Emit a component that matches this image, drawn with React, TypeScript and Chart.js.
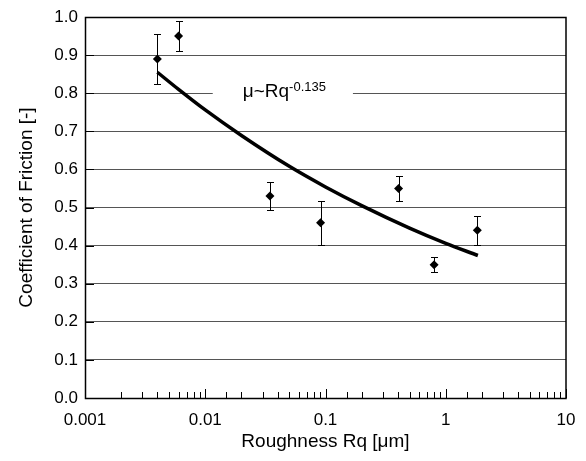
import React, { useEffect, useRef } from "react";
import { Chart, registerables } from "chart.js";

Chart.register(...registerables);

// Measured data (Roughness Rq in µm, coefficient of friction)
const roughness = [0.004, 0.006, 0.0345, 0.091, 0.405, 0.8, 1.83];
const friction = [0.89, 0.95, 0.53, 0.46, 0.55, 0.35, 0.44];
const frictionErr = [0.065, 0.04, 0.037, 0.058, 0.033, 0.019, 0.038];

// Fit curve
const fitX = [0.004, 0.006, 0.01, 0.02, 0.05, 0.1, 0.2, 0.5, 1, 1.85];
const fitY = [0.855, 0.81, 0.756, 0.689, 0.608, 0.554, 0.505, 0.446, 0.406, 0.374];

const xTickLabels = ["0.001", "0.01", "0.1", "1", "10"];
const yTickValues = [0, 0.1, 0.2, 0.3, 0.4, 0.5, 0.6, 0.7, 0.8, 0.9, 1.0];

const fitLabelMain = "μ~Rq";
const fitLabelSup = "-0.135";
const fitLabelX = 0.0205;
const fitLabelY = 0.8;

const FONT = "'Liberation Sans', Arial, sans-serif";

const decorPlugin = {
  id: "decor",
  beforeDatasetsDraw(chart: any) {
    const { ctx, scales } = chart;
    const xs = scales.x;
    const ys = scales.y;
    ctx.save();
    // label with white background interrupting gridline
    ctx.font = `19px ${FONT}`;
    const wMain = ctx.measureText(fitLabelMain).width;
    ctx.font = `13px ${FONT}`;
    const wSup = ctx.measureText(fitLabelSup).width;
    const px = xs.getPixelForValue(fitLabelX);
    const py = ys.getPixelForValue(fitLabelY);
    ctx.fillStyle = "#fff";
    ctx.fillRect(px - 30, py - 3, wMain + wSup + 57, 6);
    ctx.fillStyle = "#000";
    ctx.textBaseline = "alphabetic";
    ctx.textAlign = "left";
    ctx.font = `19px ${FONT}`;
    ctx.fillText(fitLabelMain, px, py + 3.5);
    ctx.font = `13px ${FONT}`;
    ctx.fillText(fitLabelSup, px + wMain, py - 2.5);

    // error bars
    ctx.strokeStyle = "#000";
    ctx.lineWidth = 1;
    roughness.forEach((r, i) => {
      const x = Math.round(xs.getPixelForValue(r)) + 0.5;
      const yt = Math.round(ys.getPixelForValue(friction[i] + frictionErr[i])) + 0.5;
      const yb = Math.round(ys.getPixelForValue(friction[i] - frictionErr[i])) + 0.5;
      ctx.beginPath();
      ctx.moveTo(x, yt);
      ctx.lineTo(x, yb);
      ctx.moveTo(x - 3.5, yt);
      ctx.lineTo(x + 3.5, yt);
      ctx.moveTo(x - 3.5, yb);
      ctx.lineTo(x + 3.5, yb);
      ctx.stroke();
    });
    ctx.restore();
  },
  afterDraw(chart: any) {
    const { ctx, chartArea, scales } = chart;
    const xs = scales.x;
    const ys = scales.y;
    const { left, right, top, bottom } = chartArea;
    ctx.save();
    ctx.strokeStyle = "#000";
    ctx.lineWidth = 1;
    ctx.beginPath();
    // inward x ticks
    xs.ticks.forEach((t: any) => {
      const e = Math.log10(t.value);
      const major = Math.abs(e - Math.round(e)) < 1e-6;
      const x = Math.round(xs.getPixelForValue(t.value)) + 0.5;
      ctx.moveTo(x, bottom);
      ctx.lineTo(x, bottom - (major ? 9 : 6));
    });
    // inward y ticks
    ys.ticks.forEach((t: any) => {
      const y = Math.round(ys.getPixelForValue(t.value)) + 0.5;
      ctx.moveTo(left, y);
      ctx.lineTo(left + 9, y);
    });
    ctx.stroke();
    // box
    ctx.lineWidth = 1.5;
    ctx.strokeRect(Math.round(left) + 0.5, Math.round(top) + 0.5, Math.round(right - left) - 0.5, Math.round(bottom - top));
    ctx.restore();
  },
};

export default function App() {
  const ref = useRef<HTMLCanvasElement | null>(null);
  useEffect(() => {
    if (!ref.current) return;
    const chart = new Chart(ref.current, {
      type: "scatter",
      data: {
        datasets: [
          {
            label: "fit",
            data: fitX.map((x, i) => ({ x, y: fitY[i] })),
            showLine: true,
            borderColor: "#000",
            borderWidth: 3.5,
            pointRadius: 0,
            tension: 0.4,
            cubicInterpolationMode: "monotone",
          } as any,
          {
            label: "data",
            data: roughness.map((x, i) => ({ x, y: friction[i] })),
            pointStyle: "rectRot",
            pointRadius: 4.5,
            backgroundColor: "#000",
            borderColor: "#000",
            borderWidth: 0,
          },
        ],
      },
      options: {
        animation: false,
        responsive: true,
        maintainAspectRatio: false,
        layout: { padding: { top: 9, right: 12, left: 0, bottom: 0 } },
        plugins: { legend: { display: false }, tooltip: { enabled: false } },
        scales: {
          x: {
            type: "logarithmic",
            min: 0.001,
            max: 10,
            grid: { display: false },
            border: { display: false },
            afterFit: (s: any) => {
              s.height = 55;
              s.paddingLeft = 0;
              s.paddingRight = 0;
            },
            ticks: {
              autoSkip: false,
              maxRotation: 0,
              padding: 4,
              color: "#000",
              font: { family: FONT, size: 17 },
              callback: (v: any) => {
                const e = Math.log10(Number(v));
                if (Math.abs(e - Math.round(e)) < 1e-6) {
                  return xTickLabels[Math.round(e) + 3];
                }
                return "";
              },
            },
            title: {
              display: true,
              text: "Roughness Rq [μm]",
              color: "#000",
              font: { family: FONT, size: 19 },
              padding: { top: 0, bottom: 0 },
            },
          },
          y: {
            min: 0,
            max: 1,
            grid: { color: "#555", drawTicks: false, lineWidth: 1 },
            border: { display: false },
            afterFit: (s: any) => {
              s.width = 77;
              s.paddingTop = 0;
              s.paddingBottom = 0;
            },
            afterBuildTicks: (s: any) => {
              s.ticks = yTickValues.map((v) => ({ value: v }));
            },
            ticks: {
              padding: 7,
              color: "#000",
              font: { family: FONT, size: 17 },
              callback: (v: any) => Number(v).toFixed(1),
            },
            title: {
              display: true,
              text: "Coefficient of Friction [-]",
              color: "#000",
              font: { family: FONT, size: 19 },
              padding: { top: 7, bottom: 0 },
            },
          },
        },
      },
      plugins: [decorPlugin],
    });
    return () => chart.destroy();
  }, []);
  return (
    <div style={{ width: 570, height: 445 }}>
      <canvas ref={ref} />
    </div>
  );
}
